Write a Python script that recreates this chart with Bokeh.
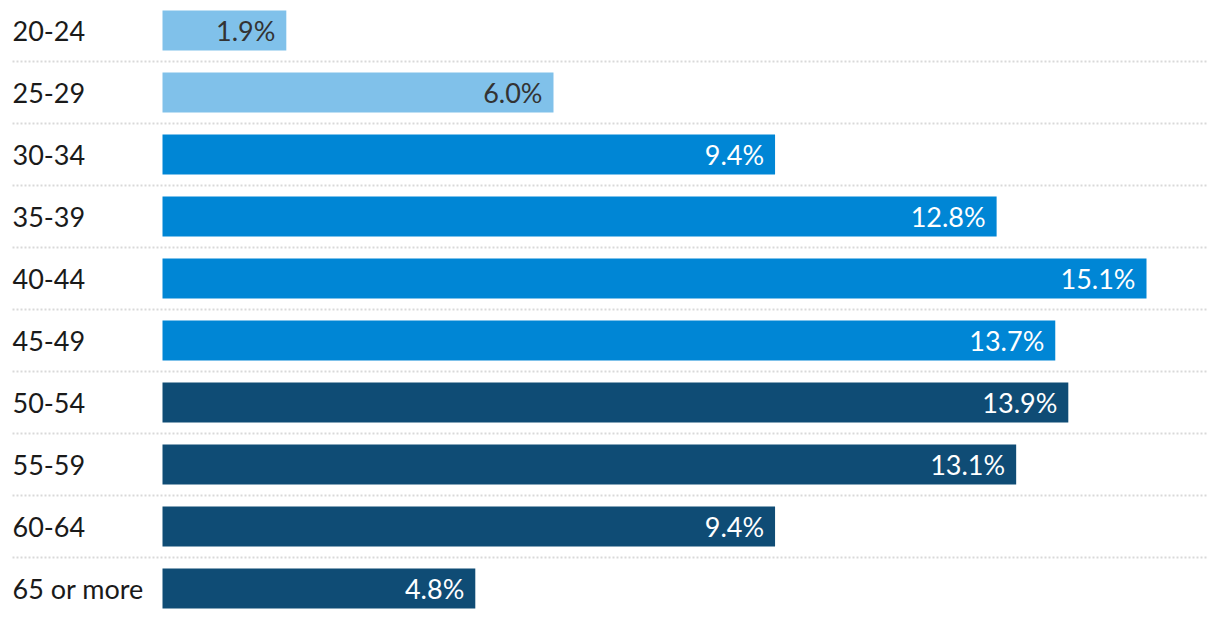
from bokeh.plotting import figure
from bokeh.models import Range1d, ColumnDataSource
from bokeh.core.properties import value
from bokeh.embed import file_html
from bokeh.resources import INLINE

categories = ["20-24", "25-29", "30-34", "35-39", "40-44", "45-49",
              "50-54", "55-59", "60-64", "65 or more"]
shares = [1.9, 6.0, 9.4, 12.8, 15.1, 13.7, 13.9, 13.1, 9.4, 4.8]

LIGHT, MID, DARK = "#80c1ea", "#0086d5", "#0f4c75"
colors = [LIGHT] * 2 + [MID] * 4 + [DARK] * 4
text_colors = ["#333333" if c == LIGHT else "#ffffff" for c in colors]

W, H = 1212, 610
px_per_unit = 984 / 15.1
x0 = -162 / px_per_unit
x1 = x0 + W / px_per_unit
row_px = 62
y_end = -30 / row_px
y_start = y_end + H / row_px

p = figure(width=W, height=H, output_backend="svg", toolbar_location=None,
           x_range=Range1d(x0, x1), y_range=Range1d(y_start, y_end),
           min_border=0, outline_line_color=None)
p.axis.visible = False
p.grid.visible = False
p.background_fill_color = "white"

idx = list(range(len(categories)))
src = ColumnDataSource(dict(
    y=idx, v=shares, cat=categories, color=colors, tcol=text_colors,
    label=[f"{s:.1f}%" for s in shares], left=[x0] * len(idx),
))

# separators
sep_y = [i + 0.5 for i in idx[:-1]]
p.segment(x0=[x0 + 12 / px_per_unit] * len(sep_y), x1=[x0 + 1208 / px_per_unit] * len(sep_y),
          y0=sep_y, y1=sep_y, line_color="#d9d9d9", line_width=2, line_dash="2 2")

p.hbar(y="y", left=0, right="v", height=40 / row_px, fill_color="color",
       line_color=None, source=src)

p.text(x="v", y="y", text="label", x_offset=-11, text_align="right",
       text_baseline="middle", text_color="tcol", text_font=value("Lato"),
       text_font_size="27px", source=src)

p.text(x="left", y="y", text="cat", x_offset=12, text_align="left",
       text_baseline="middle", text_color="#1a1a1a", text_font=value("Lato"),
       text_font_size="27px", source=src)

open("out.html", "w").write(file_html(p, INLINE))
